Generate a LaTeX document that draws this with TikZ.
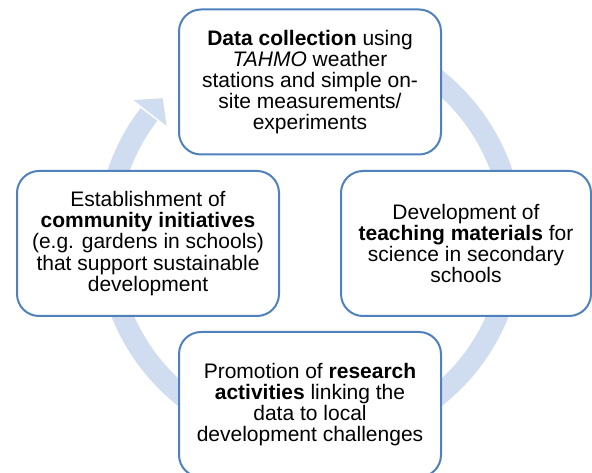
\documentclass[tikz,border=0pt]{standalone}
\usepackage{fontspec}
\setmainfont{Liberation Sans}
\definecolor{ringblue}{RGB}{208,220,239}
\definecolor{edgeblue}{RGB}{79,129,189}
\tikzset{
  stage/.style={draw=edgeblue, line width=2pt, fill=white, rounded corners=22pt,
    minimum width=262pt, minimum height=145pt, inner sep=0pt, align=center,
    font=\fontsize{21}{21.2}\selectfont},
}
\begin{document}
\begin{tikzpicture}[x=1pt,y=1pt]
  \useasboundingbox (0,0) rectangle (592,473);
  \begin{scope}[shift={(310,235)}]
    \def\radius{203}
    \draw[ringblue, line width=21pt] (80:\radius) arc[start angle=80, end angle=-217.5, radius=\radius];
    \fill[ringblue] (142:224) -- (136.5:\radius) -- (142:182) -- cycle;
  \end{scope}
  \node[stage] (collect) at (310,391) {\textbf{Data collection} using\\ \textit{TAHMO} weather\\ stations and simple on-\\ site measurements/\\ experiments};
  \node[stage] (community) at (148,229.5) {Establishment of\\ \textbf{community initiatives}\\ (e.g. gardens in schools)\\ that support sustainable\\ development};
  \node[stage, minimum width=250pt] (teach) at (466,229.5) {Development of\\ \textbf{teaching materials} for\\ science in secondary\\ schools};
  \node[stage] (research) at (310,68.5) {Promotion of \textbf{research}\\ \textbf{activities} linking the\\ data to local\\ development challenges};
\end{tikzpicture}
\end{document}
